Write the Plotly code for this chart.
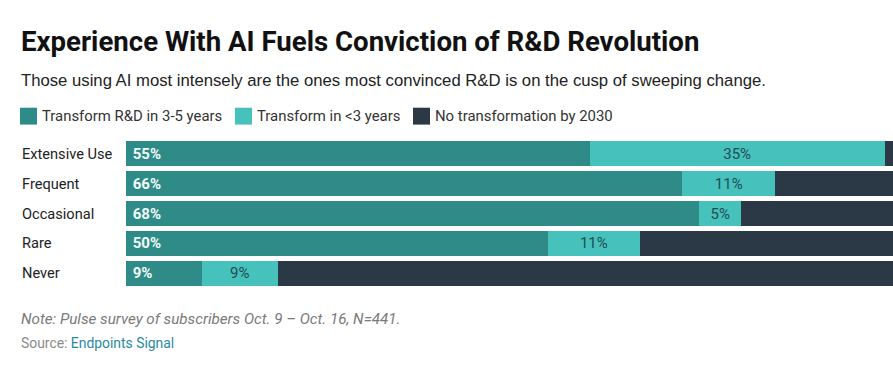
import plotly.graph_objects as go

categories = ["Extensive Use", "Frequent", "Occasional", "Rare", "Never"]
series_names = ["Transform R&D in 3-5 years", "Transform in <3 years", "No transformation by 2030"]
transform_3_5 = [55, 66, 68, 50, 9]
transform_lt3 = [35, 11, 5, 11, 9]
no_transform = [10, 23, 27, 39, 82]

colors = ["#2e8b87", "#47c1bb", "#2b3846"]

W, H = 893, 380
PLOT_TOP, PLOT_BOTTOM, PLOT_LEFT = 138.5, 288.5, 126  # page pixels
ML, MR = PLOT_LEFT, 0
MT = PLOT_TOP
MB = H - PLOT_BOTTOM
PW, PH = W - ML - MR, H - MT - MB

def px_x(x):
    return (x - ML) / PW

def px_y(y):
    return (H - MB - y) / PH

fig = go.Figure()
fig.add_trace(go.Bar(
    y=categories, x=transform_3_5, orientation="h", name=series_names[0],
    marker=dict(color=colors[0], line=dict(width=0)),
    text=[f"\u00a0<b>{v}%</b>" for v in transform_3_5], textposition="inside",
    insidetextanchor="start", textangle=0,
    insidetextfont=dict(family="Roboto", size=15, color="#f2fbfa"),
    hoverinfo="skip",
))
fig.add_trace(go.Bar(
    y=categories, x=transform_lt3, orientation="h", name=series_names[1],
    marker=dict(color=colors[1], line=dict(width=0)),
    text=[f"{v}%" for v in transform_lt3], textposition="inside",
    insidetextanchor="middle", textangle=0,
    insidetextfont=dict(family="Roboto", size=15, color="#1d4e54"),
    hoverinfo="skip",
))
fig.add_trace(go.Bar(
    y=categories, x=no_transform, orientation="h", name=series_names[2],
    marker=dict(color=colors[2], line=dict(width=0)),
    hoverinfo="skip",
))

annotations = []
shapes = []
annotations.append(dict(text="<b>Experience With AI Fuels Conviction of R&D Revolution</b>",
                        xref="paper", yref="paper", x=px_x(19), y=px_y(40), xanchor="left", yanchor="middle",
                        showarrow=False, font=dict(family="Roboto", size=27.6, color="#111111")))
annotations.append(dict(text="Those using AI most intensely are the ones most convinced R&D is on the cusp of sweeping change.",
                        xref="paper", yref="paper", x=px_x(19), y=px_y(80), xanchor="left", yanchor="middle",
                        showarrow=False, font=dict(family="Liberation Sans", size=16.7, color="#222222")))
leg_x = [20, 235, 413]
for i, name in enumerate(series_names):
    shapes.append(dict(type="rect", xref="paper", yref="paper",
                       x0=px_x(leg_x[i]), x1=px_x(leg_x[i] + 17), y0=px_y(124), y1=px_y(107),
                       fillcolor=colors[i], line=dict(width=0)))
    annotations.append(dict(text=name, xref="paper", yref="paper", x=px_x(leg_x[i] + 20), y=px_y(115.5),
                            xanchor="left", yanchor="middle", showarrow=False,
                            font=dict(family="Roboto", size=14.9, color="#333333")))
for c in categories:
    annotations.append(dict(text=c, xref="paper", yref="y", x=px_x(20), y=c, xanchor="left", yanchor="middle",
                            showarrow=False, font=dict(family="Roboto", size=14.6, color="#222222")))
annotations.append(dict(text="<i>Note: Pulse survey of subscribers Oct. 9 – Oct. 16, N=441.</i>",
                        xref="paper", yref="paper", x=px_x(19), y=px_y(320), xanchor="left", yanchor="middle",
                        showarrow=False, font=dict(family="Roboto", size=15.2, color="#7a7a7a")))
annotations.append(dict(text="Source: <span style='color:#2a8aa3'>Endpoints Signal</span>",
                        xref="paper", yref="paper", x=px_x(19), y=px_y(344), xanchor="left", yanchor="middle",
                        showarrow=False, font=dict(family="Roboto", size=13.9, color="#8a8a8a")))

fig.update_layout(
    width=W, height=H, barmode="stack", bargap=0.167,
    margin=dict(l=ML, r=MR, t=MT, b=MB, pad=0),
    paper_bgcolor="white", plot_bgcolor="white",
    showlegend=False,
    xaxis=dict(range=[0, (W - ML) / 8.43], visible=False, fixedrange=True),
    yaxis=dict(autorange="reversed", showticklabels=False, showgrid=False, zeroline=False, fixedrange=True),
    annotations=annotations, shapes=shapes,
)
fig.write_html("out.html", config={"displayModeBar": False},
               post_script="document.body.style.margin='0';document.body.style.overflow='hidden';")
